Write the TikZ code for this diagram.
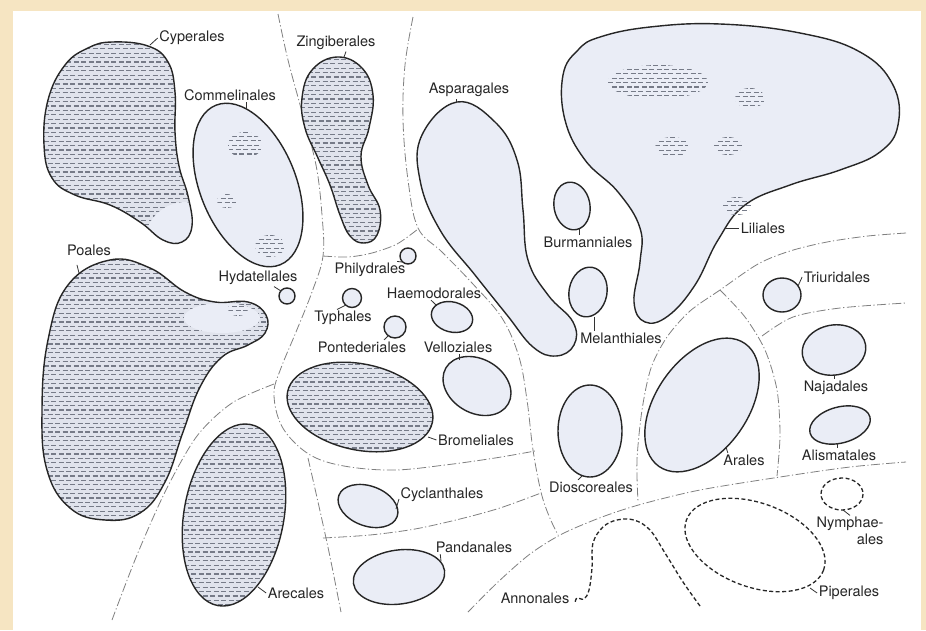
\documentclass[tikz,border=0pt]{standalone}
\usepackage{fontspec}
\setmainfont{TeX Gyre Heros}
\usepackage{tikz}
\definecolor{pagecream}{RGB}{246,229,194}
\definecolor{blobblue}{RGB}{234,237,246}
\definecolor{blobgrey}{RGB}{224,227,236}
\definecolor{hatchgrey}{RGB}{118,123,136}

% rows of short dashes: x1, x2, top y, number of row pairs
\newcommand{\hatchrows}[4]{%
  \foreach \k in {0,...,#4} {
    \draw[hatchrow] (#1,#3+\k*8.8) -- (#2,#3+\k*8.8);
    \draw[hatchrow, dash phase=3.75pt] (#1,#3+\k*8.8+4.4) -- (#2,#3+\k*8.8+4.4);
  }}
% a small patch of dashes: x, y, x radius, y radius
\newcommand{\hatchpatch}[4]{%
  \begin{scope}
    \clip (#1,#2) ellipse [x radius=#3, y radius=#4];
    \hatchrows{#1-#3}{#1+#3}{#2-#4}{5}
  \end{scope}}

% outlines of the orders
\def\cyperalesPath{plot[smooth cycle, tension=0.7] coordinates {(112,42) (148,46) (168,62) (175,92) (175,132) (179,166) (188,196) (192,226) (182,242) (163,240) (140,222) (110,205) (75,195) (52,178) (44,145) (48,100) (65,65) (88,48)}}
\def\poalesPath{plot[smooth cycle, tension=0.7] coordinates {(110,260) (150,268) (185,292) (215,302) (248,302) (266,315) (265,333) (248,345) (222,357) (200,387) (183,432) (165,482) (140,513) (105,520) (70,508) (47,470) (42,410) (48,340) (68,285)}}
\def\zingiberalesPath{plot[smooth cycle, tension=0.7] coordinates {(337,57) (362,68) (373,95) (369,128) (361,156) (368,185) (380,210) (377,235) (364,243) (350,236) (340,215) (330,185) (318,158) (305,128) (302,98) (312,70)}}
\def\asparagalesPath{plot[smooth cycle, tension=0.7] coordinates {(457,102) (495,122) (517,160) (523,210) (528,260) (548,295) (573,322) (574,345) (556,356) (533,347) (507,315) (475,275) (440,230) (420,180) (422,135)}}
\def\lilialesPath{plot[smooth cycle, tension=0.7] coordinates {(600,37) (650,27) (720,24) (800,33) (860,52) (893,85) (898,125) (880,152) (840,170) (790,185) (745,205) (718,240) (695,285) (668,316) (645,322) (634,302) (640,262) (640,228) (618,192) (585,160) (565,120) (563,75) (578,50)}}
\def\commelinalesPath{(248,185) ellipse [x radius=86, y radius=48, rotate=-68]}
\def\arecalesPath{(234,515) ellipse [x radius=92, y radius=50, rotate=80]}
\def\bromelialesPath{(360,407) ellipse [x radius=74, y radius=43, rotate=-12]}

\begin{document}
\begin{tikzpicture}[
    x=1pt, y=-1pt,
    blob/.style={draw=black!85, line width=1.4pt, fill=blobblue},
    hatchrow/.style={draw=hatchgrey, line width=1.15pt, dash pattern=on 5pt off 2.5pt},
    zone/.style={draw=black!50, line width=0.8pt, dash pattern=on 9pt off 2.5pt on 1.2pt off 2.5pt},
    ghost/.style={draw=black!85, line width=1.3pt, dash pattern=on 4pt off 2.5pt},
    lbl/.style={font=\fontsize{14.5}{17}\selectfont, text=black!85, inner sep=1.5pt},
    leader/.style={draw=black!80, line width=0.8pt}
]
    \useasboundingbox (0,0) rectangle (926,630);
    \fill[pagecream] (0,0) rectangle (926,630);
    \fill[white] (13,11) rectangle (921,630);

    % zone boundaries
    \draw[zone] plot[smooth, tension=0.6] coordinates {(278,14) (288,60) (302,112) (316,165) (322,215) (323,256) (312,292) (296,332) (281,368) (274,392) (279,420) (293,441) (316,458) (350,467) (395,470) (445,465) (495,458) (535,451)};
    \draw[zone] plot[smooth, tension=0.6] coordinates {(413,17) (405,65) (403,120) (408,180) (418,228) (442,252) (472,283) (502,318) (519,357) (527,400) (533,450) (541,492) (549,516) (558,535)};
    \draw[zone] plot[smooth] coordinates {(323,256) (348,257) (372,253) (397,244) (418,229)};
    \draw[zone] plot[smooth] coordinates {(274,384) (232,403) (197,436) (166,490) (137,555) (112,620)};
    \draw[zone] plot[smooth] coordinates {(308,458) (318,502) (329,552) (341,612)};
    \draw[zone] plot[smooth] coordinates {(323,538) (370,535) (415,529) (460,519) (500,508) (541,493)};
    \draw[zone] plot[smooth] coordinates {(468,612) (498,582) (530,554) (562,534) (602,517) (642,504) (700,490) (780,477) (850,467) (906,462)};
    \draw[zone] plot[smooth] coordinates {(906,233) (868,236) (827,242) (790,251) (758,264) (720,290) (690,311) (667,337) (651,368) (642,410) (637,460) (638,502)};
    \draw[zone] plot[smooth] coordinates {(720,290) (745,317) (765,350) (777,390) (780,435) (777,476)};
    \draw[zone] plot[smooth] coordinates {(762,336) (793,317) (840,308) (906,303)};

    % hatched orders
    \fill[blobgrey] \cyperalesPath;
    \begin{scope}
        \clip \cyperalesPath;
        \hatchrows{40}{196}{40}{23}
        \fill[blobblue, rotate around={30:(175,225)}] (175,225) ellipse [x radius=30, y radius=20];
    \end{scope}
    \draw[blob, fill=none] \cyperalesPath;

    \fill[blobgrey] \poalesPath;
    \begin{scope}
        \clip \poalesPath;
        \hatchrows{40}{270}{256}{31}
        \fill[blobblue] (222,318) ellipse [x radius=38, y radius=15];
        \hatchpatch{238}{309}{10}{7}
    \end{scope}
    \draw[blob, fill=none] \poalesPath;

    \fill[blobgrey] \zingiberalesPath;
    \begin{scope}
        \clip \zingiberalesPath;
        \hatchrows{300}{382}{55}{22}
    \end{scope}
    \draw[blob, fill=none] \zingiberalesPath;

    \fill[blobgrey] \arecalesPath;
    \begin{scope}
        \clip \arecalesPath;
        \hatchrows{180}{290}{420}{22}
    \end{scope}
    \draw[blob, fill=none] \arecalesPath;

    \fill[blobgrey] \bromelialesPath;
    \begin{scope}
        \clip \bromelialesPath;
        \hatchrows{284}{437}{360}{11}
    \end{scope}
    \draw[blob, fill=none] \bromelialesPath;

    % orders with a few patches
    \draw[blob] \commelinalesPath;
    \hatchpatch{245}{145}{17}{13}
    \hatchpatch{227}{201}{10}{7}
    \hatchpatch{270}{246}{15}{11}

    \draw[blob] \asparagalesPath;

    \draw[blob] \lilialesPath;
    \hatchpatch{658}{82}{50}{17}
    \hatchpatch{750}{98}{15}{10}
    \hatchpatch{672}{147}{17}{10}
    \hatchpatch{728}{146}{14}{9}
    \hatchpatch{737}{206}{14}{9}

    % plain orders
    \draw[blob] (287,296) circle [radius=8];
    \draw[blob] (408,256) circle [radius=8];
    \draw[blob] (352,298) circle [radius=9.5];
    \draw[blob] (395,327) circle [radius=11];
    \draw[blob] (452,317) ellipse [x radius=21, y radius=15, rotate=-15];
    \draw[blob] (477,386) ellipse [x radius=36, y radius=27, rotate=-30];
    \draw[blob] (368,506) ellipse [x radius=31, y radius=20, rotate=-20];
    \draw[blob] (399,577) ellipse [x radius=46, y radius=27, rotate=8];
    \draw[blob] (572,206) ellipse [x radius=18, y radius=24, rotate=10];
    \draw[blob] (588,292) ellipse [x radius=19, y radius=25, rotate=-10];
    \draw[blob] (590,431) ellipse [x radius=32, y radius=46];
    \draw[blob] (702,405) ellipse [x radius=75, y radius=46, rotate=55];
    \draw[blob] (782,295) ellipse [x radius=19, y radius=17];
    \draw[blob] (834,350) ellipse [x radius=32, y radius=25, rotate=10];
    \draw[blob] (840,425) ellipse [x radius=31, y radius=18, rotate=15];

    % primitive dicots
    \draw[ghost] (842,494) ellipse [x radius=21, y radius=16];
    \draw[ghost] (755,545) ellipse [x radius=73, y radius=42, rotate=-20];
    \draw[ghost] plot[smooth, tension=0.6] coordinates {(700,606) (683,582) (665,553) (650,530) (634,520) (617,520) (603,527) (593,543) (592,568) (589,590) (584,599) (577,598) (575,603)};

    % labels
    \node[lbl] (cyperalesL) at (192,38) {Cyperales};
    \node[lbl] (commelinalesL) at (230,95) {Commelinales};
    \node[lbl] (zingiberalesL) at (336,43) {Zingiberales};
    \node[lbl] (asparagalesL) at (469,90) {Asparagales};
    \node[lbl] (lilialesL) at (763,228) {Liliales};
    \node[lbl] (burmannialesL) at (588,242) {Burmanniales};
    \node[lbl] (melanthialesL) at (621,338) {Melanthiales};
    \node[lbl] (triuridalesL) at (837,277) {Triuridales};
    \node[lbl] (najadalesL) at (836,388) {Najadales};
    \node[lbl] (alismatalesL) at (839,455) {Alismatales};
    \node[lbl] (aralesL) at (744,460) {Arales};
    \node[lbl] (dioscorealesL) at (591,487) {Dioscoreales};
    \node[lbl] (vellozialesL) at (458,347) {Velloziales};
    \node[lbl] (haemodoralesL) at (434,293) {Haemodorales};
    \node[lbl] (philydralesL) at (370,270) {Philydrales};
    \node[lbl] (typhalesL) at (343,318) {Typhales};
    \node[lbl] (pontederialesL) at (362,347) {Pontederiales};
    \node[lbl] (bromelialesL) at (476,440) {Bromeliales};
    \node[lbl] (hydatellalesL) at (258,278) {Hydatellales};
    \node[lbl] (poalesL) at (89,250) {Poales};
    \node[lbl] (arecalesL) at (296,593) {Arecales};
    \node[lbl] (cyclanthalesL) at (442,495) {Cyclanthales};
    \node[lbl] (pandanalesL) at (474,547) {Pandanales};
    \node[lbl] (annonalesL) at (535,598) {Annonales};
    \node[lbl] (piperalesL) at (849,593) {Piperales};
    \node[lbl, align=right] (nymphaealesL) at (850,531) {Nymphae-\\ales};

    % leader ticks
    \coordinate (cyperalesA) at (150,45);
    \coordinate (commelinalesA) at (246,108);
    \coordinate (zingiberalesA) at (344,57);
    \coordinate (asparagalesA) at (456,103);
    \coordinate (lilialesA) at (724,228);
    \coordinate (burmannialesA) at (579,229);
    \coordinate (melanthialesA) at (594,317);
    \coordinate (triuridalesA) at (798,286);
    \coordinate (najadalesA) at (834,375);
    \coordinate (alismatalesA) at (837,443);
    \coordinate (aralesA) at (726,447);
    \coordinate (dioscorealesA) at (582,476);
    \coordinate (vellozialesA) at (459,360);
    \coordinate (haemodoralesA) at (436,305);
    \coordinate (philydralesA) at (402,262);
    \coordinate (typhalesA) at (346,305);
    \coordinate (pontederialesA) at (388,336);
    \coordinate (bromelialesA) at (428,437);
    \coordinate (hydatellalesA) at (281,291);
    \coordinate (poalesA) at (79,273);
    \coordinate (arecalesA) at (258,587);
    \coordinate (cyclanthalesA) at (396,509);
    \coordinate (pandanalesA) at (441,561);
    \coordinate (piperalesA) at (810,588);
    \coordinate (nymphaealesA) at (843,510);

    \draw[leader] (cyperalesA) -- (cyperalesL.west);
    \draw[leader] (commelinalesA) -- (commelinalesA |- commelinalesL.south);
    \draw[leader] (zingiberalesA) -- ([xshift=10pt]zingiberalesL.south);
    \draw[leader] (asparagalesA) -- (asparagalesA |- asparagalesL.south);
    \draw[leader] (lilialesA) -- (lilialesL.west);
    \draw[leader] (burmannialesA) -- (burmannialesA |- burmannialesL.north);
    \draw[leader] (melanthialesA) -- (melanthialesA |- melanthialesL.north);
    \draw[leader] (triuridalesA) -- (triuridalesL.west);
    \draw[leader] (najadalesA) -- (najadalesA |- najadalesL.north);
    \draw[leader] (alismatalesA) -- (alismatalesA |- alismatalesL.north);
    \draw[leader] (aralesA) -- ([xshift=6pt]aralesL.north west);
    \draw[leader] (dioscorealesA) -- ([xshift=-13pt]dioscorealesL.north);
    \draw[leader] (vellozialesA) -- (vellozialesA |- vellozialesL.south);
    \draw[leader] (haemodoralesA) -- ([xshift=-3pt]haemodoralesL.south);
    \draw[leader] (philydralesA) -- ([xshift=-10pt]philydralesL.north east);
    \draw[leader] (typhalesA) -- ([xshift=-6pt]typhalesL.north);
    \draw[leader] (pontederialesA) -- ([xshift=22pt]pontederialesL.north);
    \draw[leader] (bromelialesA) -- (bromelialesL.west);
    \draw[leader] (hydatellalesA) -- ([xshift=16pt]hydatellalesL.south);
    \draw[leader, shorten >=8pt] (poalesA) -- ([xshift=-14pt]poalesL.south);
    \draw[leader] (arecalesA) -- (arecalesL.west);
    \draw[leader] (cyclanthalesA) -- ([yshift=-4pt]cyclanthalesL.west);
    \draw[leader] (pandanalesA) -- ([xshift=6pt]pandanalesL.south west);
    \draw[leader] (piperalesA) -- (piperalesL.west);
    \draw[leader] (nymphaealesA) -- (nymphaealesL.north);
\end{tikzpicture}
\end{document}
